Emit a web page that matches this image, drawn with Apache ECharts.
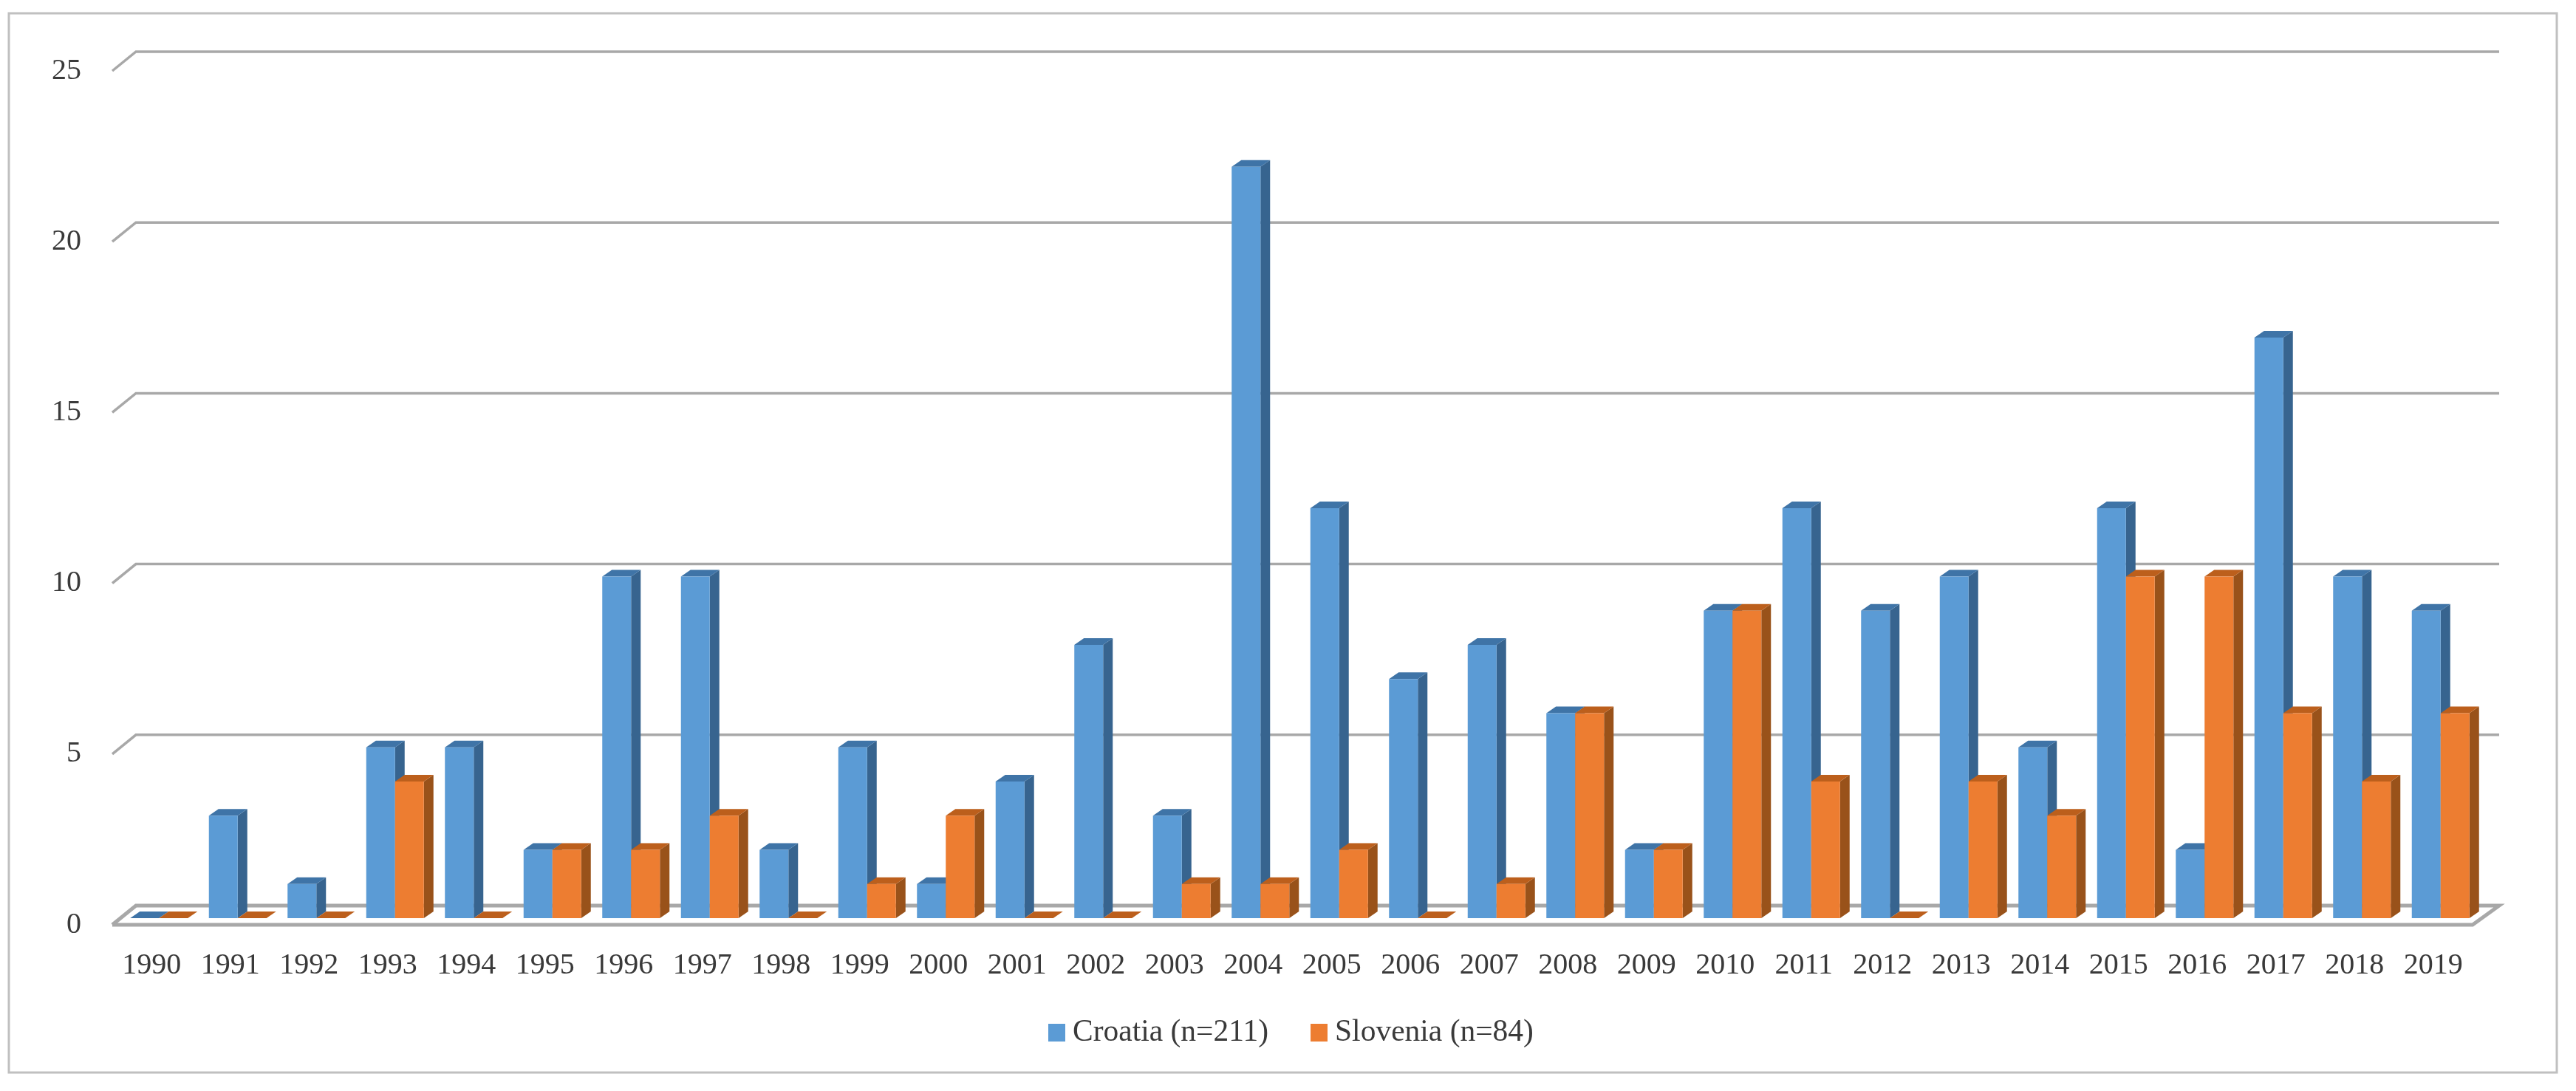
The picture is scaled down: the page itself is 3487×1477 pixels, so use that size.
<!DOCTYPE html>
<html>
<head>
<meta charset="utf-8">
<script src="https://cdn.jsdelivr.net/npm/echarts@6/dist/echarts.min.js"></script>
<style>html,body{margin:0;padding:0;background:#fff}#c{width:3487px;height:1477px}</style>
</head>
<body>
<div id="c"></div>
<script>
const years = ['1990','1991','1992','1993','1994','1995','1996','1997','1998','1999','2000','2001','2002','2003','2004','2005','2006','2007','2008','2009','2010','2011','2012','2013','2014','2015','2016','2017','2018','2019'];
const croatia = [0,3,1,5,5,2,10,10,2,5,1,4,8,3,22,12,7,8,6,2,9,12,9,10,5,12,2,17,10,9];
const slovenia = [0,0,0,4,0,2,2,3,0,1,3,0,0,1,1,2,0,1,6,2,9,4,0,4,3,10,10,6,4,6];
const ticks = [0,5,10,15,20,25];
const names = ['Croatia (n=211)','Slovenia (n=84)'];

const FONT = '"Liberation Serif", serif';
const TEXT = '#3a3a3a';
const GRID = '#a8a8a8';

function barRenderer(startOffset, w, front, side, top) {
  return function (params, api) {
    const p = api.coord([api.value(0), api.value(1)]);
    const b = api.coord([api.value(0), 0]);
    const x = p[0] + startOffset, yT = p[1] - 9, yB = b[1] - 9, dx = 13, dy = 9;
    return { type: 'group', children: [
      { type: 'polygon', shape: { points: [[x+w,yT],[x+w+dx,yT-dy],[x+w+dx,yB-dy],[x+w,yB]] }, style: { fill: side } },
      { type: 'polygon', shape: { points: [[x,yT],[x+dx,yT-dy],[x+w+dx,yT-dy],[x+w,yT]] }, style: { fill: top } },
      { type: 'rect', shape: { x: x, y: yT, width: w, height: yB - yT }, style: { fill: front } }
    ]};
  };
}

function gridRenderer(params, api) {
  const v = api.value(0);
  const cs = params.coordSys;
  const y = api.coord([0, v])[1];
  const l = cs.x, r = cs.x + cs.width;
  const backL = l + 32, backR = r + 36, backY = y - 26;
  if (v === 0) {
    return { type: 'polyline', shape: { points: [[l,y],[backL,backY],[backR,backY],[r,y],[l,y]] }, style: { stroke: GRID, lineWidth: 5, fill: null } };
  }
  return { type: 'polyline', shape: { points: [[l,y],[backL,backY],[backR,backY]] }, style: { stroke: GRID, lineWidth: 3.5, fill: null } };
}

const chart = echarts.init(document.getElementById('c'), null, { renderer: 'canvas' });
chart.setOption({
  animation: false,
  backgroundColor: '#ffffff',
  textStyle: { fontFamily: FONT },
  graphic: [{
    type: 'rect', z: -10, silent: true,
    shape: { x: 12, y: 18, width: 3449, height: 1434 },
    style: { fill: '#ffffff', stroke: '#c0c0c0', lineWidth: 3 }
  }],
  grid: { left: 152, top: 96, width: 3195, height: 1156 },
  legend: {
    left: 1414, top: 1372,
    data: names,
    icon: 'rect',
    itemWidth: 23, itemHeight: 24, itemGap: 57,
    textStyle: { fontFamily: FONT, fontSize: 41.5, color: TEXT, padding: [0,0,0,5] }
  },
  xAxis: {
    type: 'category', data: years,
    axisLine: { show: false }, axisTick: { show: false },
    axisLabel: { interval: 0, margin: 35, fontFamily: FONT, fontSize: 40, color: TEXT }
  },
  yAxis: {
    type: 'value', min: 0, max: 25, interval: 5,
    axisLine: { show: false }, axisTick: { show: false }, splitLine: { show: false },
    axisLabel: { margin: 42, fontFamily: FONT, fontSize: 40, color: TEXT }
  },
  series: [
    { type: 'custom', silent: true, z: 1, renderItem: gridRenderer, encode: { y: 0 }, data: ticks.map(t => [t]) },
    { type: 'custom', name: names[0], z: 2, itemStyle: { color: '#5B9BD5' }, encode: { x: 0, y: 1 },
      renderItem: barRenderer(-29, 39, '#5B9BD5', '#37648F', '#3F74A7'),
      data: croatia.map((v, i) => [i, v]) },
    { type: 'custom', name: names[1], z: 3, itemStyle: { color: '#ED7D31' }, encode: { x: 0, y: 1 },
      renderItem: barRenderer(10, 39, '#ED7D31', '#99521A', '#BC5F1C'),
      data: slovenia.map((v, i) => [i, v]) }
  ]
});
</script>
</body>
</html>
